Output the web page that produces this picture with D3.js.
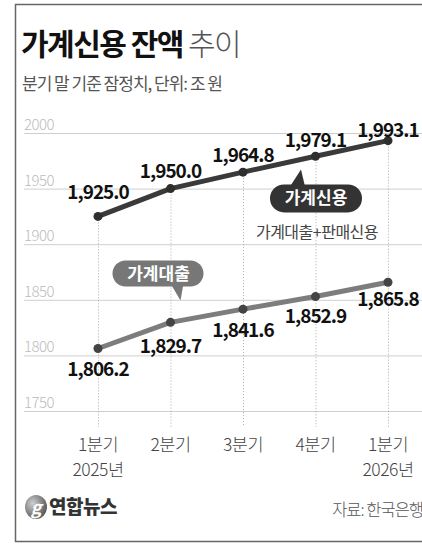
<!DOCTYPE html>
<head>
  <meta charset="utf-8">
  <style>
    body { margin: 0; background: #fff; }
    text { font-family: "Noto Sans CJK KR", "Noto Sans", sans-serif; }
  </style>
  <title>가계신용 잔액 추이</title>
</head>
<body>
  <script src="https://cdn.jsdelivr.net/npm/d3@7"></script>
  <script>
    // data (조 원)
    var quarters = ["1분기", "2분기", "3분기", "4분기", "1분기"];
    var years = ["2025년", "", "", "", "2026년"];
    var credit = [1925.0, 1950.0, 1964.8, 1979.1, 1993.1];   // 가계신용
    var loans = [1806.2, 1829.7, 1841.6, 1852.9, 1865.8];    // 가계대출
    var yTicks = [1750, 1800, 1850, 1900, 1950, 2000];

    var W = 422, H = 556;

    var svg = d3.select("body").append("svg")
      .attr("width", W)
      .attr("height", H);

    var x = d3.scalePoint().domain(d3.range(quarters.length)).range([98, 388]);
    var y = d3.scaleLinear().domain([1750, 2000]).range([411, 133]);

    // frame
    svg.append("path")
      .attr("d", "M" + W + ",4.5 H15.5 V541.5 H" + W)
      .attr("fill", "none")
      .attr("stroke", "#666")
      .attr("stroke-width", 1.5);

    // title
    var title = svg.append("text")
      .attr("x", 21).attr("y", 55)
      .style("font-size", "30px")
      .style("letter-spacing", "-1.5px");
    title.append("tspan").attr("font-weight", 700).attr("fill", "#111").text("가계신용 잔액");
    title.append("tspan").attr("font-weight", 300).attr("fill", "#555").attr("dx", 5).text("추이");

    svg.append("text")
      .attr("x", 22).attr("y", 90)
      .style("font-size", "17px")
      .style("letter-spacing", "-1px")
      .attr("fill", "#555")
      .text("분기 말 기준 잠정치, 단위: 조 원");

    // gridlines + y labels
    var grid = svg.append("g").attr("id", "grid");
    grid.selectAll("line").data(yTicks).enter().append("line")
      .attr("x1", 24).attr("x2", W)
      .attr("y1", function(d) { return y(d) + 0.5; })
      .attr("y2", function(d) { return y(d) + 0.5; })
      .attr("stroke", "#cfcfcf");
    grid.selectAll("text").data(yTicks).enter().append("text")
      .attr("x", 24)
      .attr("y", function(d) { return y(d) - 3; })
      .style("font-size", "15px")
      .style("letter-spacing", "-0.5px")
      .attr("font-weight", 300)
      .attr("fill", "#bbb")
      .text(function(d) { return d; });

    // dotted verticals
    svg.append("g").selectAll("line").data(credit).enter().append("line")
      .attr("x1", function(d, i) { return x(i) + 0.5; })
      .attr("x2", function(d, i) { return x(i) + 0.5; })
      .attr("y1", function(d) { return y(d); })
      .attr("y2", 427)
      .attr("stroke", "#aaa")
      .attr("stroke-dasharray", "1,2");

    // x labels
    var xl = svg.append("g").attr("id", "x_labels");
    xl.selectAll(".q").data(quarters).enter().append("text")
      .attr("x", function(d, i) { return x(i); })
      .attr("y", 451)
      .attr("text-anchor", "middle")
      .style("font-size", "17.5px")
      .style("letter-spacing", "-0.5px")
      .attr("font-weight", 300)
      .attr("fill", "#444")
      .text(function(d) { return d; });
    xl.selectAll(".yr").data(years).enter().append("text")
      .attr("x", function(d, i) { return x(i); })
      .attr("y", 476)
      .attr("text-anchor", "middle")
      .style("font-size", "17.5px")
      .style("letter-spacing", "-0.5px")
      .attr("font-weight", 300)
      .attr("fill", "#444")
      .text(function(d) { return d; });

    var line = d3.line().x(function(d, i) { return x(i); }).y(function(d) { return y(d); });
    var fmt = d3.format(",.1f");

    function drawSeries(data, color, dotColor, labelDy) {
      var g = svg.append("g");
      g.append("path").datum(data)
        .attr("d", line)
        .attr("fill", "none")
        .attr("stroke", color)
        .attr("stroke-width", 5)
        .attr("stroke-linejoin", "round");
      g.selectAll("circle").data(data).enter().append("circle")
        .attr("cx", function(d, i) { return x(i); })
        .attr("cy", function(d) { return y(d); })
        .attr("r", 4.5)
        .attr("fill", dotColor);
      g.selectAll("text").data(data).enter().append("text")
        .attr("x", function(d, i) { return x(i); })
        .attr("y", function(d, i) { return y(d) + labelDy[i]; })
        .attr("text-anchor", "middle")
        .style("font-size", "19px")
        .style("letter-spacing", "-1px")
        .attr("font-weight", 700)
        .attr("fill", "#111")
        .text(function(d) { return fmt(d); });
    }

    drawSeries(credit, "#3a3a3a", "#2e2e2e", [-17, -11, -10, -9, -4]);
    drawSeries(loans, "#7d7d7d", "#444", [27, 31, 28, 26, 24]);

    // callout: 가계신용
    var cx1 = x(2) + 0.8 * (x(3) - x(2));
    var cy1 = y(credit[2] + 0.8 * (credit[3] - credit[2])) + 10;
    var c1 = svg.append("g");
    c1.append("path")
      .attr("d", "M" + (cx1 - 11) + "," + (cy1 + 17) + " L" + cx1 + "," + cy1 + " L" + (cx1 + 4) + "," + (cy1 + 17) + " Z")
      .attr("fill", "#333");
    c1.append("rect")
      .attr("x", cx1 - 31).attr("y", cy1 + 15)
      .attr("width", 92).attr("height", 28).attr("rx", 14)
      .attr("fill", "#333");
    c1.append("text")
      .attr("x", cx1 + 15).attr("y", cy1 + 35)
      .attr("text-anchor", "middle")
      .style("font-size", "17px")
      .attr("font-weight", 700)
      .attr("fill", "#fff")
      .text("가계신용");
    c1.append("text")
      .attr("x", cx1 + 16).attr("y", cy1 + 69)
      .attr("text-anchor", "middle")
      .style("font-size", "16px")
      .style("letter-spacing", "-0.5px")
      .attr("font-weight", 400)
      .attr("fill", "#444")
      .text("가계대출+판매신용");

    // callout: 가계대출
    var cx2 = x(1) + 10;
    var cy2 = y(loans[1] + 0.14 * (loans[2] - loans[1])) - 20;
    var c2 = svg.append("g");
    c2.append("path")
      .attr("d", "M" + (cx2 - 10) + "," + (cy2 - 17) + " L" + cx2 + "," + cy2 + " L" + (cx2 + 3) + "," + (cy2 - 17) + " Z")
      .attr("fill", "#777");
    c2.append("rect")
      .attr("x", cx2 - 68).attr("y", cy2 - 40)
      .attr("width", 91).attr("height", 26).attr("rx", 13)
      .attr("fill", "#777");
    c2.append("text")
      .attr("x", cx2 - 22).attr("y", cy2 - 21)
      .attr("text-anchor", "middle")
      .style("font-size", "17px")
      .attr("font-weight", 700)
      .attr("fill", "#fff")
      .text("가계대출");

    // footer: logo + source
    var grad = svg.append("defs").append("radialGradient")
      .attr("id", "logoGrad").attr("cx", "35%").attr("cy", "35%").attr("r", "70%");
    grad.append("stop").attr("offset", "0%").attr("stop-color", "#cfcfcf");
    grad.append("stop").attr("offset", "100%").attr("stop-color", "#555");
    svg.append("ellipse")
      .attr("cx", 36).attr("cy", 507).attr("rx", 11).attr("ry", 12)
      .attr("fill", "url(#logoGrad)");
    svg.append("text")
      .attr("x", 36).attr("y", 514)
      .attr("text-anchor", "middle")
      .style("font-size", "18px")
      .style("font-style", "italic")
      .attr("font-weight", 700)
      .attr("fill", "#fff")
      .text("g");
    svg.append("text")
      .attr("x", 49).attr("y", 514)
      .style("font-size", "19px")
      .style("letter-spacing", "-0.5px")
      .attr("font-weight", 900)
      .attr("fill", "#333")
      .text("연합뉴스");
    svg.append("text")
      .attr("x", 423).attr("y", 516)
      .attr("text-anchor", "end")
      .style("font-size", "16.5px")
      .style("letter-spacing", "-1px")
      .attr("font-weight", 300)
      .attr("fill", "#555")
      .text("자료: 한국은행");
  </script>
</body>
